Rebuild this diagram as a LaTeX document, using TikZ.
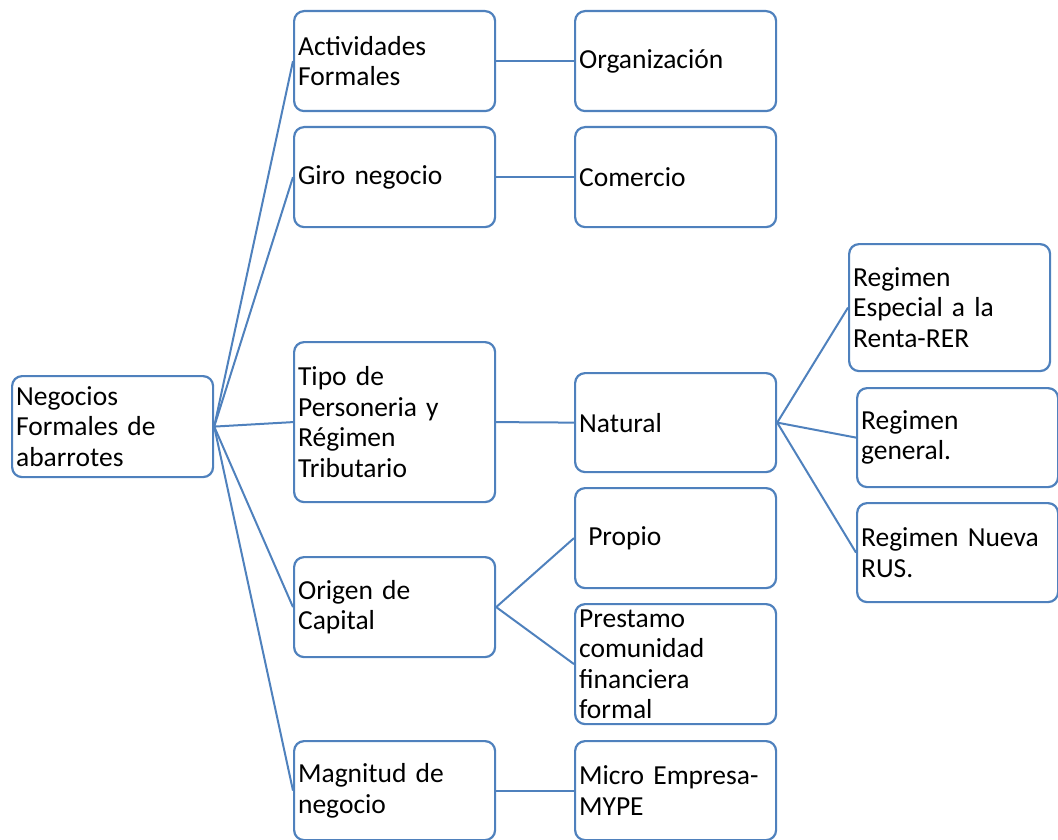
\documentclass[tikz,border=0pt]{standalone}
\usepackage{fontspec}
\setmainfont{Carlito}
\definecolor{ofblue}{RGB}{79,129,189}

\begin{document}
\begin{tikzpicture}[x=1pt,y=-1pt,
    box/.style={draw=ofblue,line width=2.2pt,rounded corners=10pt,fill=white,
      anchor=north west,minimum width=201pt,minimum height=#1,text width=193pt,
      inner xsep=4pt,inner ysep=0pt,align=left,
      font=\fontsize{27.5}{30.5}\selectfont},
    link/.style={draw=ofblue,line width=2pt}]
  \useasboundingbox (0,0) rectangle (1058,840);
  % root
  \node[box=101pt] (root) at (11,375) {Negocios\\Formales de\\abarrotes};
  % first level
  \node[box=100pt] (act)  at (293,10)  {Actividades\\Formales};
  \node[box=100pt] (giro) at (293,126) {Giro negocio};
  \node[box=160pt] (tipo) at (293,341) {Tipo de\\Personeria y\\Régimen\\Tributario};
  \node[box=100pt] (orig) at (293,556) {Origen de\\Capital};
  \node[box=99pt]  (magn) at (293,740) {Magnitud de\\negocio};
  % second level
  \node[box=100pt] (org)  at (574,10)  {Organización};
  \node[box=100pt] (com)  at (574,126) {Comercio};
  \node[box=99pt]  (nat)  at (574,372) {Natural};
  \node[box=100pt] (prop) at (574,487) {\ Propio};
  \node[box=120pt] (pres) at (574,603) {Prestamo\\comunidad\\financiera\\formal};
  \node[box=99pt]  (micro) at (574,740) {Micro Empresa-\\MYPE};
  % third level
  \node[box=127pt] (rer) at (848,243) {Regimen\\Especial a la\\Renta-RER};
  \node[box=99pt]  (gen) at (856,387) {Regimen\\general.};
  \node[box=99pt]  (rus) at (856,502) {Regimen Nueva\\RUS.};
  % connectors
  \foreach \n in {act,giro,tipo,orig,magn}
    \draw[link] (root.east) -- (\n.west);
  \draw[link] (act.east) -- (org.west);
  \draw[link] (giro.east) -- (com.west);
  \draw[link] (tipo.east) -- (nat.west);
  \draw[link] (magn.east) -- (micro.west);
  \draw[link] (orig.east) -- (prop.west);
  \draw[link] (orig.east) -- (pres.west);
  \foreach \n in {rer,gen,rus}
    \draw[link] (nat.east) -- (\n.west);
\end{tikzpicture}
\end{document}
